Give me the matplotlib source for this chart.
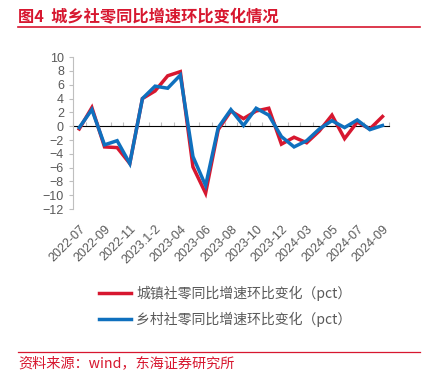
import matplotlib.pyplot as plt
import numpy as np

plt.rcParams['font.family'] = ['Liberation Sans', 'Noto Sans CJK SC', 'DejaVu Sans']

# months, Jan-Feb combined
months = ['2022-07', '2022-08', '2022-09', '2022-10', '2022-11', '2022-12',
          '2023.1-2', '2023-03', '2023-04', '2023-05', '2023-06', '2023-07',
          '2023-08', '2023-09', '2023-10', '2023-11', '2023-12', '2024.1-2',
          '2024-03', '2024-04', '2024-05', '2024-06', '2024-07', '2024-08',
          '2024-09']
urban = [-0.4, 2.7, -3.0, -3.1, -5.4, 4.0, 5.1, 7.3, 7.9, -5.9, -9.7, -0.5,
         2.2, 1.1, 2.2, 2.6, -2.6, -1.6, -2.4, -0.7, 1.6, -1.8, 0.6, -0.4, 1.4]
rural = [-0.2, 2.4, -2.7, -2.1, -5.4, 4.0, 5.8, 5.5, 7.4, -4.4, -8.6, -0.2,
         2.4, 0.1, 2.6, 1.6, -1.5, -3.0, -2.1, -0.4, 0.8, -0.2, 0.9, -0.5, 0.1]
urban_label = '城镇社零同比增速环比变化（pct）'
rural_label = '乡村社零同比增速环比变化（pct）'

red = '#D7172F'
blue = '#0F70BE'
grey = '#595959'
axis_grey = '#BFBFBF'

fig = plt.figure(figsize=(4.24, 3.76), dpi=100)
ax = fig.add_axes([0.172, 0.444, 0.745, 0.404])

x = np.arange(len(months))
ax.plot(x, urban, color=red, lw=2.5, label=urban_label, solid_joinstyle='miter')
ax.plot(x, rural, color=blue, lw=2.5, label=rural_label, solid_joinstyle='miter')

ax.set_xlim(-0.5, len(months) - 0.5)
ax.set_ylim(-12, 10)
ax.set_yticks(np.arange(-12, 11, 2))
ax.tick_params(axis='y', colors=axis_grey, labelcolor=grey, labelsize=9, length=3, width=0.8)
for s in ['top', 'right', 'bottom']:
    ax.spines[s].set_visible(False)
ax.spines['left'].set_color(axis_grey)
ax.spines['left'].set_linewidth(0.8)

ax.set_xticks(x[::2])
ax.set_xticklabels(months[::2], rotation=45, ha='right', va='top',
                   rotation_mode='anchor', color=grey, fontsize=9)
ax.tick_params(axis='x', length=0, pad=10)

# zero axis with category boundary ticks
zero = ax.secondary_xaxis(12 / 22)
zero.set_xticks(np.arange(-0.5, len(months), 1))
zero.set_xticklabels([])
zero.spines['bottom'].set_color(axis_grey)
zero.spines['bottom'].set_linewidth(1.2)
zero.tick_params(axis='x', colors=axis_grey, length=3, width=0.8)

# title, rules, source
fig.text(0.043, 0.94, '图4  城乡社零同比增速环比变化情况', color=red, fontsize=11.7,
         fontweight='bold', family=['Noto Sans CJK SC', 'DejaVu Sans'], va='baseline')
fig.add_artist(plt.Line2D([0.043, 0.99], [0.929, 0.929], color=red, lw=1.2))
fig.add_artist(plt.Line2D([0.043, 0.99], [0.064, 0.064], color=red, lw=0.9))
fig.text(0.043, 0.034, '资料来源：wind，东海证券研究所', color=red, fontsize=10.2,
         family=['Noto Sans CJK SC', 'DejaVu Sans'], va='center')

leg = fig.legend(loc='center left', bbox_to_anchor=(0.205, 0.186), frameon=False,
                 handlelength=2.3, handletextpad=0.35, labelspacing=0.75,
                 prop={'family': ['Noto Sans CJK SC', 'DejaVu Sans'], 'size': 10})
for t in leg.get_texts():
    t.set_color(grey)

fig.savefig('out.png', dpi=100)
